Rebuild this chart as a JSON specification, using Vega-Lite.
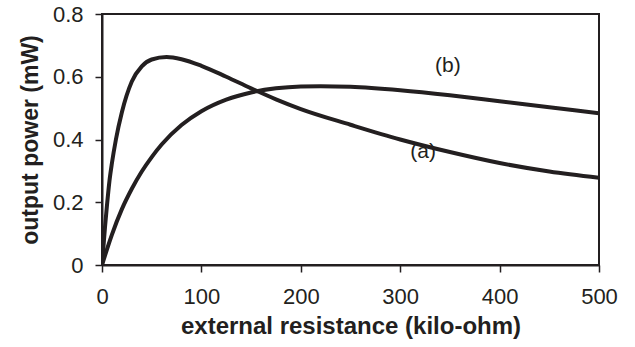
{
  "$schema": "https://vega.github.io/schema/vega-lite/v6.json",
  "width": 497,
  "height": 251,
  "autosize": {"type": "none"},
  "padding": {"left": 102, "top": 14, "right": 36, "bottom": 82},
  "background": "white",
  "config": {
    "view": {"stroke": "#231f20", "strokeWidth": 2},
    "font": "Liberation Sans"
  },
  "datasets": {
    "curves": [
      {"R": 0, "P": 0, "c": "a"},
      {"R": 3, "P": 0.12, "c": "a"},
      {"R": 5, "P": 0.19, "c": "a"},
      {"R": 7.5, "P": 0.268, "c": "a"},
      {"R": 10, "P": 0.325, "c": "a"},
      {"R": 14, "P": 0.4, "c": "a"},
      {"R": 20, "P": 0.487, "c": "a"},
      {"R": 30, "P": 0.585, "c": "a"},
      {"R": 40, "P": 0.633, "c": "a"},
      {"R": 50, "P": 0.655, "c": "a"},
      {"R": 65, "P": 0.663, "c": "a"},
      {"R": 80, "P": 0.656, "c": "a"},
      {"R": 100, "P": 0.635, "c": "a"},
      {"R": 125, "P": 0.6, "c": "a"},
      {"R": 150, "P": 0.563, "c": "a"},
      {"R": 175, "P": 0.528, "c": "a"},
      {"R": 200, "P": 0.497, "c": "a"},
      {"R": 250, "P": 0.447, "c": "a"},
      {"R": 300, "P": 0.4, "c": "a"},
      {"R": 350, "P": 0.36, "c": "a"},
      {"R": 400, "P": 0.325, "c": "a"},
      {"R": 450, "P": 0.298, "c": "a"},
      {"R": 500, "P": 0.278, "c": "a"},
      {"R": 0, "P": 0, "c": "b"},
      {"R": 5, "P": 0.05, "c": "b"},
      {"R": 10, "P": 0.097, "c": "b"},
      {"R": 20, "P": 0.178, "c": "b"},
      {"R": 30, "P": 0.243, "c": "b"},
      {"R": 40, "P": 0.298, "c": "b"},
      {"R": 50, "P": 0.344, "c": "b"},
      {"R": 60, "P": 0.384, "c": "b"},
      {"R": 80, "P": 0.446, "c": "b"},
      {"R": 100, "P": 0.49, "c": "b"},
      {"R": 125, "P": 0.527, "c": "b"},
      {"R": 150, "P": 0.55, "c": "b"},
      {"R": 175, "P": 0.563, "c": "b"},
      {"R": 200, "P": 0.569, "c": "b"},
      {"R": 220, "P": 0.57, "c": "b"},
      {"R": 250, "P": 0.568, "c": "b"},
      {"R": 300, "P": 0.557, "c": "b"},
      {"R": 350, "P": 0.541, "c": "b"},
      {"R": 400, "P": 0.522, "c": "b"},
      {"R": 450, "P": 0.503, "c": "b"},
      {"R": 500, "P": 0.484, "c": "b"}
    ],
    "labels": [
      {"R": 348, "P": 0.635, "t": "(b)"},
      {"R": 323, "P": 0.36, "t": "(a)"}
    ]
  },
  "layer": [
    {
      "data": {"name": "curves"},
      "mark": {"type": "line", "interpolate": "monotone", "strokeWidth": 4, "color": "#231f20", "clip": true},
      "encoding": {
        "x": {
          "field": "R", "type": "quantitative",
          "scale": {"domain": [0, 500], "nice": false},
          "axis": {
            "values": [0, 100, 200, 300, 400, 500],
            "title": "external resistance (kilo-ohm)",
            "grid": false,
            "labelFlush": false,
            "domainColor": "#231f20", "domainWidth": 2,
            "tickColor": "#231f20", "tickWidth": 1.5, "tickSize": 7,
            "labelFont": "Liberation Sans", "labelFontSize": 22, "labelColor": "#231f20",
            "labelPadding": 14,
            "titleFont": "Liberation Sans", "titleFontSize": 24, "titleFontWeight": "bold", "titleColor": "#231f20",
            "titlePadding": 7
          }
        },
        "y": {
          "field": "P", "type": "quantitative",
          "scale": {"domain": [0, 0.8], "nice": false},
          "axis": {
            "values": [0, 0.2, 0.4, 0.6, 0.8],
            "format": ".1~f",
            "title": "output power (mW)",
            "grid": false,
            "labelFlush": false,
            "domainColor": "#231f20", "domainWidth": 2,
            "tickColor": "#231f20", "tickWidth": 1.5, "tickSize": 7,
            "labelFont": "Liberation Sans", "labelFontSize": 22, "labelColor": "#231f20",
            "labelPadding": 12,
            "titleFont": "Liberation Sans", "titleFontSize": 23, "titleFontWeight": "bold", "titleColor": "#231f20",
            "titlePadding": 10
          }
        },
        "detail": {"field": "c"}
      }
    },
    {
      "data": {"name": "labels"},
      "mark": {"type": "text", "fontSize": 21, "font": "Liberation Sans", "color": "#231f20"},
      "encoding": {
        "x": {"field": "R", "type": "quantitative"},
        "y": {"field": "P", "type": "quantitative"},
        "text": {"field": "t"}
      }
    }
  ]
}
